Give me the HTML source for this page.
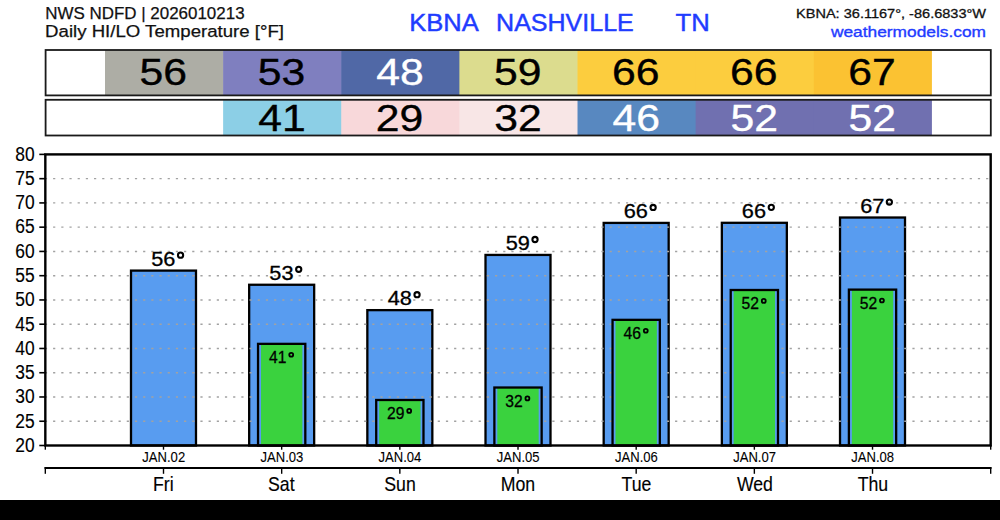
<!DOCTYPE html><html><head><meta charset="utf-8"><style>html,body{margin:0;padding:0;background:#fff;overflow:hidden;}svg{display:block;}text{font-family:"Liberation Sans",sans-serif;}</style></head><body>
<svg width="1000" height="520" viewBox="0 0 1000 520">
<rect x="0" y="0" width="1000" height="520" fill="#fff"/>
<text x="45.24" y="19.00" font-size="17.11" textLength="199.32" lengthAdjust="spacingAndGlyphs" fill="#111" stroke="#111" stroke-width="0.25">NWS NDFD | 2026010213</text>
<text x="45.08" y="36.80" font-size="16.97" textLength="238.94" lengthAdjust="spacingAndGlyphs" fill="#111" stroke="#111" stroke-width="0.25">Daily HI/LO Temperature [°F]</text>
<text x="409.30" y="31.00" font-size="24.09" textLength="69.54" lengthAdjust="spacingAndGlyphs" fill="#1f3cff" stroke="#1f3cff" stroke-width="0.45">KBNA</text>
<text x="496.14" y="31.00" font-size="24.09" textLength="137.64" lengthAdjust="spacingAndGlyphs" fill="#1f3cff" stroke="#1f3cff" stroke-width="0.45">NASHVILLE</text>
<text x="675.59" y="31.00" font-size="24.09" textLength="34.21" lengthAdjust="spacingAndGlyphs" fill="#1f3cff" stroke="#1f3cff" stroke-width="0.45">TN</text>
<text x="796.01" y="18.00" font-size="12.86" textLength="190.09" lengthAdjust="spacingAndGlyphs" fill="#111" stroke="#111" stroke-width="0.30">KBNA: 36.1167°, -86.6833°W</text>
<text x="830.97" y="37.00" font-size="14.66" textLength="154.98" lengthAdjust="spacingAndGlyphs" fill="#1f3cff" stroke="#1f3cff" stroke-width="0.35">weathermodels.com</text>
<rect x="45.6" y="50.0" width="945.20" height="45.40" fill="#fff"/>
<rect x="105.00" y="50.0" width="118.73" height="45.40" fill="#adada5"/>
<rect x="223.13" y="50.0" width="118.73" height="45.40" fill="#7f7fbf"/>
<rect x="341.26" y="50.0" width="118.73" height="45.40" fill="#5068a6"/>
<rect x="459.39" y="50.0" width="118.73" height="45.40" fill="#dcdc8e"/>
<rect x="577.52" y="50.0" width="118.73" height="45.40" fill="#fccd3e"/>
<rect x="695.65" y="50.0" width="118.73" height="45.40" fill="#fccd3e"/>
<rect x="813.78" y="50.0" width="118.13" height="45.40" fill="#fbc232"/>
<text x="139.58" y="85.20" font-size="36.43" textLength="47.47" lengthAdjust="spacingAndGlyphs" fill="#000" stroke="#000" stroke-width="0.35">56</text>
<text x="257.71" y="85.20" font-size="36.43" textLength="47.47" lengthAdjust="spacingAndGlyphs" fill="#000" stroke="#000" stroke-width="0.35">53</text>
<text x="376.25" y="85.20" font-size="36.43" textLength="47.47" lengthAdjust="spacingAndGlyphs" fill="#fff" stroke="#fff" stroke-width="0.35">48</text>
<text x="494.09" y="85.20" font-size="36.43" textLength="47.47" lengthAdjust="spacingAndGlyphs" fill="#000" stroke="#000" stroke-width="0.35">59</text>
<text x="611.93" y="85.20" font-size="36.43" textLength="47.47" lengthAdjust="spacingAndGlyphs" fill="#000" stroke="#000" stroke-width="0.35">66</text>
<text x="730.06" y="85.20" font-size="36.43" textLength="47.47" lengthAdjust="spacingAndGlyphs" fill="#000" stroke="#000" stroke-width="0.35">66</text>
<text x="848.36" y="85.20" font-size="36.43" textLength="47.47" lengthAdjust="spacingAndGlyphs" fill="#000" stroke="#000" stroke-width="0.35">67</text>
<rect x="45.6" y="50.0" width="945.20" height="45.40" fill="none" stroke="#1a1a1a" stroke-width="1.8"/>
<rect x="223.13" y="99.8" width="118.73" height="35.70" fill="#8ccfe6"/>
<rect x="341.26" y="99.8" width="118.73" height="35.70" fill="#f8d8da"/>
<rect x="459.39" y="99.8" width="118.73" height="35.70" fill="#f8e6e6"/>
<rect x="577.52" y="99.8" width="118.73" height="35.70" fill="#5888c0"/>
<rect x="695.65" y="99.8" width="118.73" height="35.70" fill="#7070b0"/>
<rect x="813.78" y="99.8" width="118.13" height="35.70" fill="#7070b0"/>
<text x="258.24" y="131.20" font-size="36.43" textLength="47.47" lengthAdjust="spacingAndGlyphs" fill="#000" stroke="#000" stroke-width="0.35">41</text>
<text x="375.78" y="131.20" font-size="36.43" textLength="47.47" lengthAdjust="spacingAndGlyphs" fill="#000" stroke="#000" stroke-width="0.35">29</text>
<text x="494.21" y="131.20" font-size="36.43" textLength="47.47" lengthAdjust="spacingAndGlyphs" fill="#000" stroke="#000" stroke-width="0.35">32</text>
<text x="612.51" y="131.20" font-size="36.43" textLength="47.47" lengthAdjust="spacingAndGlyphs" fill="#fff" stroke="#fff" stroke-width="0.35">46</text>
<text x="730.41" y="131.20" font-size="36.43" textLength="47.47" lengthAdjust="spacingAndGlyphs" fill="#fff" stroke="#fff" stroke-width="0.35">52</text>
<text x="848.54" y="131.20" font-size="36.43" textLength="47.47" lengthAdjust="spacingAndGlyphs" fill="#fff" stroke="#fff" stroke-width="0.35">52</text>
<rect x="45.6" y="99.8" width="945.20" height="35.70" fill="none" stroke="#1a1a1a" stroke-width="1.8"/>
<rect x="131.00" y="270.60" width="64.99" height="174.90" fill="#589cf0" stroke="#000" stroke-width="2.3"/>
<rect x="249.17" y="284.76" width="64.99" height="160.74" fill="#589cf0" stroke="#000" stroke-width="2.3"/>
<rect x="367.34" y="310.14" width="64.99" height="135.36" fill="#589cf0" stroke="#000" stroke-width="2.3"/>
<rect x="485.51" y="254.93" width="64.99" height="190.57" fill="#589cf0" stroke="#000" stroke-width="2.3"/>
<rect x="603.68" y="222.91" width="64.99" height="222.59" fill="#589cf0" stroke="#000" stroke-width="2.3"/>
<rect x="721.85" y="222.81" width="64.99" height="222.69" fill="#589cf0" stroke="#000" stroke-width="2.3"/>
<rect x="840.02" y="217.52" width="64.99" height="227.98" fill="#589cf0" stroke="#000" stroke-width="2.3"/>
<line x1="44.9" y1="421.24" x2="990" y2="421.24" stroke="#a2a2a2" stroke-width="1.4" stroke-dasharray="2.2 5.984"/>
<line x1="44.9" y1="396.98" x2="990" y2="396.98" stroke="#a2a2a2" stroke-width="1.4" stroke-dasharray="2.2 5.984"/>
<line x1="44.9" y1="372.73" x2="990" y2="372.73" stroke="#a2a2a2" stroke-width="1.4" stroke-dasharray="2.2 5.984"/>
<line x1="44.9" y1="348.47" x2="990" y2="348.47" stroke="#a2a2a2" stroke-width="1.4" stroke-dasharray="2.2 5.984"/>
<line x1="44.9" y1="324.21" x2="990" y2="324.21" stroke="#a2a2a2" stroke-width="1.4" stroke-dasharray="2.2 5.984"/>
<line x1="44.9" y1="299.95" x2="990" y2="299.95" stroke="#a2a2a2" stroke-width="1.4" stroke-dasharray="2.2 5.984"/>
<line x1="44.9" y1="275.69" x2="990" y2="275.69" stroke="#a2a2a2" stroke-width="1.4" stroke-dasharray="2.2 5.984"/>
<line x1="44.9" y1="251.43" x2="990" y2="251.43" stroke="#a2a2a2" stroke-width="1.4" stroke-dasharray="2.2 5.984"/>
<line x1="44.9" y1="227.17" x2="990" y2="227.17" stroke="#a2a2a2" stroke-width="1.4" stroke-dasharray="2.2 5.984"/>
<line x1="44.9" y1="202.92" x2="990" y2="202.92" stroke="#a2a2a2" stroke-width="1.4" stroke-dasharray="2.2 5.984"/>
<line x1="44.9" y1="178.66" x2="990" y2="178.66" stroke="#a2a2a2" stroke-width="1.4" stroke-dasharray="2.2 5.984"/>
<rect x="258.04" y="343.86" width="47.27" height="101.64" fill="#589cf0"/>
<rect x="260.99" y="343.86" width="41.36" height="101.64" fill="#3ad23e"/>
<rect x="258.04" y="343.86" width="47.27" height="101.64" fill="none" stroke="#000" stroke-width="2.3"/>
<rect x="376.21" y="399.99" width="47.27" height="45.51" fill="#589cf0"/>
<rect x="379.16" y="399.99" width="41.36" height="45.51" fill="#3ad23e"/>
<rect x="376.21" y="399.99" width="47.27" height="45.51" fill="none" stroke="#000" stroke-width="2.3"/>
<rect x="494.38" y="387.52" width="47.27" height="57.98" fill="#589cf0"/>
<rect x="497.33" y="387.52" width="41.36" height="57.98" fill="#3ad23e"/>
<rect x="494.38" y="387.52" width="47.27" height="57.98" fill="none" stroke="#000" stroke-width="2.3"/>
<rect x="612.55" y="319.84" width="47.27" height="125.66" fill="#589cf0"/>
<rect x="615.50" y="319.84" width="41.36" height="125.66" fill="#3ad23e"/>
<rect x="612.55" y="319.84" width="47.27" height="125.66" fill="none" stroke="#000" stroke-width="2.3"/>
<rect x="730.72" y="290.00" width="47.27" height="155.50" fill="#589cf0"/>
<rect x="733.67" y="290.00" width="41.36" height="155.50" fill="#3ad23e"/>
<rect x="730.72" y="290.00" width="47.27" height="155.50" fill="none" stroke="#000" stroke-width="2.3"/>
<rect x="848.89" y="289.62" width="47.27" height="155.88" fill="#589cf0"/>
<rect x="851.84" y="289.62" width="41.36" height="155.88" fill="#3ad23e"/>
<rect x="848.89" y="289.62" width="47.27" height="155.88" fill="none" stroke="#000" stroke-width="2.3"/>
<rect x="45.33" y="154.4" width="945.36" height="291.10" fill="none" stroke="#000" stroke-width="2.4"/>
<line x1="39.3" y1="445.50" x2="45.33" y2="445.50" stroke="#000" stroke-width="1.6"/>
<text x="15.26" y="451.80" font-size="19.66" textLength="19.37" lengthAdjust="spacingAndGlyphs" fill="#000" stroke="#000" stroke-width="0.15">20</text>
<line x1="39.3" y1="421.24" x2="45.33" y2="421.24" stroke="#000" stroke-width="1.6"/>
<text x="15.26" y="427.54" font-size="19.66" textLength="19.37" lengthAdjust="spacingAndGlyphs" fill="#000" stroke="#000" stroke-width="0.15">25</text>
<line x1="39.3" y1="396.98" x2="45.33" y2="396.98" stroke="#000" stroke-width="1.6"/>
<text x="15.26" y="403.28" font-size="19.66" textLength="19.37" lengthAdjust="spacingAndGlyphs" fill="#000" stroke="#000" stroke-width="0.15">30</text>
<line x1="39.3" y1="372.73" x2="45.33" y2="372.73" stroke="#000" stroke-width="1.6"/>
<text x="15.26" y="379.03" font-size="19.66" textLength="19.37" lengthAdjust="spacingAndGlyphs" fill="#000" stroke="#000" stroke-width="0.15">35</text>
<line x1="39.3" y1="348.47" x2="45.33" y2="348.47" stroke="#000" stroke-width="1.6"/>
<text x="15.26" y="354.77" font-size="19.66" textLength="19.37" lengthAdjust="spacingAndGlyphs" fill="#000" stroke="#000" stroke-width="0.15">40</text>
<line x1="39.3" y1="324.21" x2="45.33" y2="324.21" stroke="#000" stroke-width="1.6"/>
<text x="15.26" y="330.51" font-size="19.66" textLength="19.37" lengthAdjust="spacingAndGlyphs" fill="#000" stroke="#000" stroke-width="0.15">45</text>
<line x1="39.3" y1="299.95" x2="45.33" y2="299.95" stroke="#000" stroke-width="1.6"/>
<text x="15.26" y="306.25" font-size="19.66" textLength="19.37" lengthAdjust="spacingAndGlyphs" fill="#000" stroke="#000" stroke-width="0.15">50</text>
<line x1="39.3" y1="275.69" x2="45.33" y2="275.69" stroke="#000" stroke-width="1.6"/>
<text x="15.26" y="281.99" font-size="19.66" textLength="19.37" lengthAdjust="spacingAndGlyphs" fill="#000" stroke="#000" stroke-width="0.15">55</text>
<line x1="39.3" y1="251.43" x2="45.33" y2="251.43" stroke="#000" stroke-width="1.6"/>
<text x="15.26" y="257.73" font-size="19.66" textLength="19.37" lengthAdjust="spacingAndGlyphs" fill="#000" stroke="#000" stroke-width="0.15">60</text>
<line x1="39.3" y1="227.17" x2="45.33" y2="227.17" stroke="#000" stroke-width="1.6"/>
<text x="15.26" y="233.47" font-size="19.66" textLength="19.37" lengthAdjust="spacingAndGlyphs" fill="#000" stroke="#000" stroke-width="0.15">65</text>
<line x1="39.3" y1="202.92" x2="45.33" y2="202.92" stroke="#000" stroke-width="1.6"/>
<text x="15.26" y="209.22" font-size="19.66" textLength="19.37" lengthAdjust="spacingAndGlyphs" fill="#000" stroke="#000" stroke-width="0.15">70</text>
<line x1="39.3" y1="178.66" x2="45.33" y2="178.66" stroke="#000" stroke-width="1.6"/>
<text x="15.26" y="184.96" font-size="19.66" textLength="19.37" lengthAdjust="spacingAndGlyphs" fill="#000" stroke="#000" stroke-width="0.15">75</text>
<line x1="39.3" y1="154.40" x2="45.33" y2="154.40" stroke="#000" stroke-width="1.6"/>
<text x="15.26" y="160.70" font-size="19.66" textLength="19.37" lengthAdjust="spacingAndGlyphs" fill="#000" stroke="#000" stroke-width="0.15">80</text>
<text x="151.15" y="265.70" font-size="20.42" textLength="24.20" lengthAdjust="spacingAndGlyphs" fill="#000" stroke="#000" stroke-width="0.30">56</text>
<circle cx="180.55" cy="255.15" r="2.6" fill="none" stroke="#000" stroke-width="2.1"/>
<text x="269.32" y="279.86" font-size="20.42" textLength="24.20" lengthAdjust="spacingAndGlyphs" fill="#000" stroke="#000" stroke-width="0.30">53</text>
<circle cx="298.72" cy="269.31" r="2.6" fill="none" stroke="#000" stroke-width="2.1"/>
<text x="387.65" y="305.24" font-size="20.42" textLength="24.20" lengthAdjust="spacingAndGlyphs" fill="#000" stroke="#000" stroke-width="0.30">48</text>
<circle cx="417.05" cy="294.69" r="2.6" fill="none" stroke="#000" stroke-width="2.1"/>
<text x="505.71" y="250.03" font-size="20.42" textLength="24.20" lengthAdjust="spacingAndGlyphs" fill="#000" stroke="#000" stroke-width="0.30">59</text>
<circle cx="535.01" cy="239.48" r="2.6" fill="none" stroke="#000" stroke-width="2.1"/>
<text x="623.72" y="218.01" font-size="20.42" textLength="24.20" lengthAdjust="spacingAndGlyphs" fill="#000" stroke="#000" stroke-width="0.30">66</text>
<circle cx="653.12" cy="207.46" r="2.6" fill="none" stroke="#000" stroke-width="2.1"/>
<text x="741.89" y="217.91" font-size="20.42" textLength="24.20" lengthAdjust="spacingAndGlyphs" fill="#000" stroke="#000" stroke-width="0.30">66</text>
<circle cx="771.29" cy="207.36" r="2.6" fill="none" stroke="#000" stroke-width="2.1"/>
<text x="860.17" y="212.62" font-size="20.42" textLength="24.20" lengthAdjust="spacingAndGlyphs" fill="#000" stroke="#000" stroke-width="0.30">67</text>
<circle cx="889.36" cy="202.07" r="2.6" fill="none" stroke="#000" stroke-width="2.1"/>
<text x="269.00" y="362.86" font-size="16.93" textLength="17.41" lengthAdjust="spacingAndGlyphs" fill="#000" stroke="#000" stroke-width="0.30">41</text>
<circle cx="291.22" cy="354.76" r="1.95" fill="none" stroke="#000" stroke-width="1.8"/>
<text x="386.98" y="418.99" font-size="16.93" textLength="17.41" lengthAdjust="spacingAndGlyphs" fill="#000" stroke="#000" stroke-width="0.30">29</text>
<circle cx="409.20" cy="410.89" r="1.95" fill="none" stroke="#000" stroke-width="1.8"/>
<text x="505.20" y="406.52" font-size="16.93" textLength="17.41" lengthAdjust="spacingAndGlyphs" fill="#000" stroke="#000" stroke-width="0.30">32</text>
<circle cx="527.42" cy="398.42" r="1.95" fill="none" stroke="#000" stroke-width="1.8"/>
<text x="623.46" y="338.84" font-size="16.93" textLength="17.41" lengthAdjust="spacingAndGlyphs" fill="#000" stroke="#000" stroke-width="0.30">46</text>
<circle cx="645.78" cy="330.74" r="1.95" fill="none" stroke="#000" stroke-width="1.8"/>
<text x="741.54" y="309.00" font-size="16.93" textLength="17.41" lengthAdjust="spacingAndGlyphs" fill="#000" stroke="#000" stroke-width="0.30">52</text>
<circle cx="763.76" cy="300.90" r="1.95" fill="none" stroke="#000" stroke-width="1.8"/>
<text x="859.71" y="308.62" font-size="16.93" textLength="17.41" lengthAdjust="spacingAndGlyphs" fill="#000" stroke="#000" stroke-width="0.30">52</text>
<circle cx="881.93" cy="300.52" r="1.95" fill="none" stroke="#000" stroke-width="1.8"/>
<line x1="45.33" y1="445" x2="45.33" y2="449.7" stroke="#000" stroke-width="1.4"/>
<line x1="990.69" y1="445" x2="990.69" y2="449.7" stroke="#000" stroke-width="1.4"/>
<line x1="163.50" y1="445" x2="163.50" y2="449.7" stroke="#000" stroke-width="1.4"/>
<line x1="281.67" y1="445" x2="281.67" y2="449.7" stroke="#000" stroke-width="1.4"/>
<line x1="399.84" y1="445" x2="399.84" y2="449.7" stroke="#000" stroke-width="1.4"/>
<line x1="518.01" y1="445" x2="518.01" y2="449.7" stroke="#000" stroke-width="1.4"/>
<line x1="636.18" y1="445" x2="636.18" y2="449.7" stroke="#000" stroke-width="1.4"/>
<line x1="754.35" y1="445" x2="754.35" y2="449.7" stroke="#000" stroke-width="1.4"/>
<line x1="872.52" y1="445" x2="872.52" y2="449.7" stroke="#000" stroke-width="1.4"/>
<text x="142.31" y="461.80" font-size="14.17" textLength="42.87" lengthAdjust="spacingAndGlyphs" fill="#000" stroke="#000" stroke-width="0.10">JAN.02</text>
<text x="260.44" y="461.80" font-size="14.17" textLength="42.87" lengthAdjust="spacingAndGlyphs" fill="#000" stroke="#000" stroke-width="0.10">JAN.03</text>
<text x="378.52" y="461.80" font-size="14.17" textLength="42.87" lengthAdjust="spacingAndGlyphs" fill="#000" stroke="#000" stroke-width="0.10">JAN.04</text>
<text x="496.73" y="461.80" font-size="14.17" textLength="42.87" lengthAdjust="spacingAndGlyphs" fill="#000" stroke="#000" stroke-width="0.10">JAN.05</text>
<text x="614.95" y="461.80" font-size="14.17" textLength="42.87" lengthAdjust="spacingAndGlyphs" fill="#000" stroke="#000" stroke-width="0.10">JAN.06</text>
<text x="733.16" y="461.80" font-size="14.17" textLength="42.87" lengthAdjust="spacingAndGlyphs" fill="#000" stroke="#000" stroke-width="0.10">JAN.07</text>
<text x="851.29" y="461.80" font-size="14.17" textLength="42.87" lengthAdjust="spacingAndGlyphs" fill="#000" stroke="#000" stroke-width="0.10">JAN.08</text>
<line x1="44.53" y1="468" x2="991.49" y2="468" stroke="#000" stroke-width="1.8"/>
<line x1="45.33" y1="467" x2="45.33" y2="473.8" stroke="#000" stroke-width="1.4"/>
<line x1="990.69" y1="467" x2="990.69" y2="473.8" stroke="#000" stroke-width="1.4"/>
<line x1="163.50" y1="467" x2="163.50" y2="473.8" stroke="#000" stroke-width="1.4"/>
<line x1="281.67" y1="467" x2="281.67" y2="473.8" stroke="#000" stroke-width="1.4"/>
<line x1="399.84" y1="467" x2="399.84" y2="473.8" stroke="#000" stroke-width="1.4"/>
<line x1="518.01" y1="467" x2="518.01" y2="473.8" stroke="#000" stroke-width="1.4"/>
<line x1="636.18" y1="467" x2="636.18" y2="473.8" stroke="#000" stroke-width="1.4"/>
<line x1="754.35" y1="467" x2="754.35" y2="473.8" stroke="#000" stroke-width="1.4"/>
<line x1="872.52" y1="467" x2="872.52" y2="473.8" stroke="#000" stroke-width="1.4"/>
<text x="153.06" y="490.90" font-size="20.09" textLength="20.64" lengthAdjust="spacingAndGlyphs" fill="#000" stroke="#000" stroke-width="0.15">Fri</text>
<text x="268.04" y="490.90" font-size="20.09" textLength="26.56" lengthAdjust="spacingAndGlyphs" fill="#000" stroke="#000" stroke-width="0.15">Sat</text>
<text x="384.27" y="490.90" font-size="20.09" textLength="31.49" lengthAdjust="spacingAndGlyphs" fill="#000" stroke="#000" stroke-width="0.15">Sun</text>
<text x="500.67" y="490.90" font-size="20.09" textLength="34.43" lengthAdjust="spacingAndGlyphs" fill="#000" stroke="#000" stroke-width="0.15">Mon</text>
<text x="621.49" y="490.90" font-size="20.09" textLength="29.84" lengthAdjust="spacingAndGlyphs" fill="#000" stroke="#000" stroke-width="0.15">Tue</text>
<text x="736.88" y="490.90" font-size="20.09" textLength="36.07" lengthAdjust="spacingAndGlyphs" fill="#000" stroke="#000" stroke-width="0.15">Wed</text>
<text x="857.70" y="490.90" font-size="20.09" textLength="30.49" lengthAdjust="spacingAndGlyphs" fill="#000" stroke="#000" stroke-width="0.15">Thu</text>
<rect x="0" y="500" width="1000" height="20" fill="#000"/>
</svg></body></html>
